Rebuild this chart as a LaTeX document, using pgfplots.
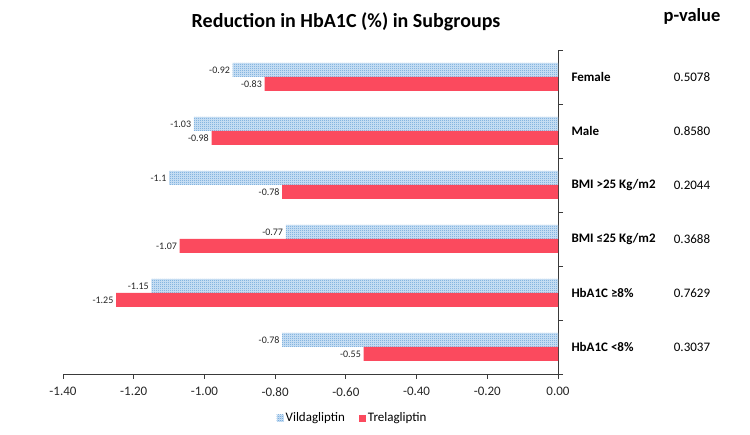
\documentclass[border=0pt]{standalone}
\usepackage{pgfplots}
\pgfplotsset{compat=1.18}
\usepackage{pgfplotstable}
\usepackage{fontspec}
\setmainfont{Carlito}
\usetikzlibrary{patterns}

\definecolor{vblue}{HTML}{5B9BD5}
\definecolor{vlight}{HTML}{D4E6F7}
\definecolor{tred}{HTML}{FB4A5E}
\definecolor{axisgray}{HTML}{3A3A3A}

% fine checkerboard fill for the Vildagliptin bars
\pgfdeclarepatternformonly{checker}{\pgfqpoint{0pt}{0pt}}{\pgfqpoint{2pt}{2pt}}{\pgfqpoint{2pt}{2pt}}{%
  \pgfpathrectangle{\pgfqpoint{0pt}{0pt}}{\pgfqpoint{1pt}{1pt}}%
  \pgfpathrectangle{\pgfqpoint{1pt}{1pt}}{\pgfqpoint{1pt}{1pt}}%
  \pgfusepath{fill}}

% subgroup index (0 = bottom), change in HbA1C, printed label
\pgfplotstableread{
pos val lab
5 -0.92 -0.92
4 -1.03 -1.03
3 -1.10 -1.1
2 -0.77 -0.77
1 -1.15 -1.15
0 -0.78 -0.78
}\vilda
\pgfplotstableread{
pos val lab
5 -0.83 -0.83
4 -0.98 -0.98
3 -0.78 -0.78
2 -1.07 -1.07
1 -1.25 -1.25
0 -0.55 -0.55
}\trela

\begin{document}
\begin{tikzpicture}
\path[use as bounding box] (0pt,0pt) rectangle (750pt,435pt);

\node[font=\bfseries\fontsize{20}{24}\selectfont] at (346pt,413pt) {Reduction in HbA1C (\%) in Subgroups};
\node[font=\bfseries\fontsize{18.5}{22}\selectfont] at (692pt,419pt) {p-value};

\begin{axis}[
  at={(63pt,61pt)}, anchor=south west,
  scale only axis, width=495pt, height=324pt,
  xbar, bar width=14pt,
  xmin=-1.4, xmax=0, ymin=-0.5, ymax=5.5,
  enlargelimits=false, clip=false,
  axis x line*=bottom, axis y line*=right,
  axis line style={axisgray, line width=0.9pt},
  xtick={-1.4,-1.2,-1.0,-0.8,-0.6,-0.4,-0.2,0},
  xticklabels={-1.40,-1.20,-1.00,-0.80,-0.60,-0.40,-0.20,0.00},
  ytick={0,1,2,3,4,5},
  yticklabels={HbA1C <8\%, HbA1C ≥8\%, BMI ≤25 Kg/m2, BMI >25 Kg/m2, Male, Female},
  minor ytick={-0.5,0.5,1.5,2.5,3.5,4.5,5.5},
  tick align=outside, major tick length=5pt, minor tick length=5pt,
  every major y tick/.style={draw=none},
  tick style={axisgray, line width=0.9pt},
  x tick label style={font=\fontsize{13}{15}\selectfont, text=black!85, yshift=-5pt},
  y tick label style={font=\bfseries\fontsize{13}{15}\selectfont, anchor=west, xshift=5pt},
  nodes near coords, point meta=explicit symbolic,
  every node near coord/.append style={anchor=east, font=\fontsize{10}{12}\selectfont, text=black!85, inner sep=2.5pt},
  legend style={at={(0.585,-0.136)}, anchor=center, draw=none, legend columns=2,
    font=\fontsize{13}{15}\selectfont,
    /tikz/every even column/.append style={column sep=12pt}},
  legend image code/.code={\fill[#1] (0pt,-3.5pt) rectangle (7pt,3.5pt);},
]
\addplot[draw=none, fill=vlight, postaction={pattern=checker, pattern color=vblue}, bar shift=7pt]
  table[x=val, y=pos, meta=lab] {\vilda};
\addplot[draw=none, fill=tred, bar shift=-7pt]
  table[x=val, y=pos, meta=lab] {\trela};
\legend{Vildagliptin, Trelagliptin}

% p-values beside each subgroup
\begin{scope}[every node/.style={font=\fontsize{13}{15}\selectfont, xshift=134pt}]
\node at (axis cs:0,5) {0.5078};
\node at (axis cs:0,4) {0.8580};
\node at (axis cs:0,3) {0.2044};
\node at (axis cs:0,2) {0.3688};
\node at (axis cs:0,1) {0.7629};
\node at (axis cs:0,0) {0.3037};
\end{scope}
\end{axis}
\end{tikzpicture}
\end{document}
